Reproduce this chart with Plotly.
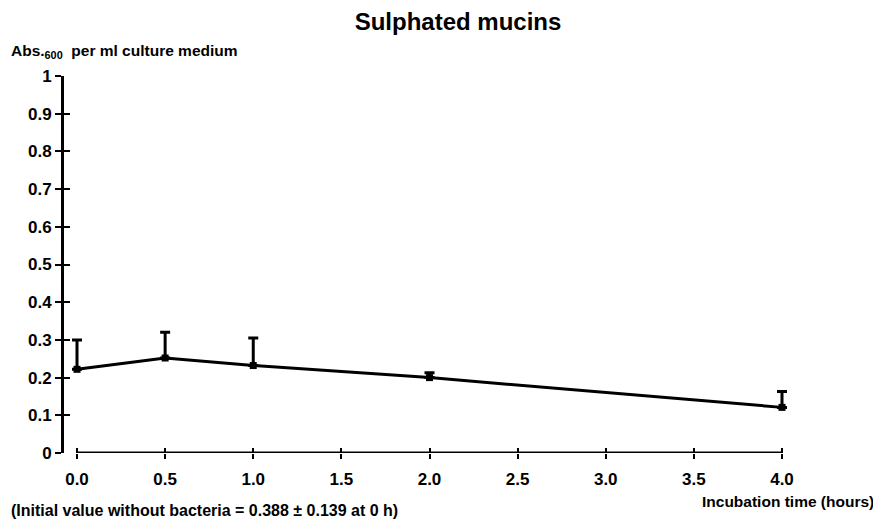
import plotly.graph_objects as go

# Data
time_h = [0.0, 0.5, 1.0, 2.0, 4.0]
absorbance = [0.222, 0.252, 0.232, 0.200, 0.121]
err_upper = [0.078, 0.068, 0.073, 0.013, 0.042]
x_ticks = [0.0, 0.5, 1.0, 1.5, 2.0, 2.5, 3.0, 3.5, 4.0]
x_ticklabels = ["0.0", "0.5", "1.0", "1.5", "2.0", "2.5", "3.0", "3.5", "4.0"]
y_ticks = [0, 0.1, 0.2, 0.3, 0.4, 0.5, 0.6, 0.7, 0.8, 0.9, 1.0]
y_ticklabels = ["0", "0.1", "0.2", "0.3", "0.4", "0.5", "0.6", "0.7", "0.8", "0.9", "1"]

# the page body has an 8px margin: work in screen pixels and subtract it
OFF = 8
W, H = 881 - OFF, 525 - OFF
L, R, T, B = 64 - OFF, 82, 76 - OFF, 72
PW, PH = W - L - R, H - T - B


def px(x):
    return (x - OFF - L) / PW


def py(y):
    return (H - B - (y - OFF)) / PH


FONT = "Arial, Liberation Sans, Helvetica, sans-serif"
# x range so that 0 sits at screen x=77 and 4 at x=782
x0 = -13 / 176.25
x1 = x0 + PW / 176.25

fig = go.Figure()
fig.add_trace(go.Scatter(
    x=time_h, y=absorbance,
    mode="lines+markers",
    line=dict(color="black", width=3),
    marker=dict(symbol="square", size=7, color="black"),
    error_y=dict(type="data", symmetric=False, array=err_upper,
                 arrayminus=[0] * len(err_upper),
                 color="black", thickness=3, width=5),
    cliponaxis=False,
    showlegend=False,
))

tickfont = dict(family=FONT, size=17, color="black", weight="bold")

fig.update_layout(
    width=W, height=H,
    margin=dict(l=L, r=R, t=T, b=B),
    paper_bgcolor="white", plot_bgcolor="white",
    title=dict(text="Sulphated mucins", x=(458 - OFF) / W, xanchor="center",
               y=1 - (22 - OFF) / H, yanchor="middle",
               font=dict(family=FONT, size=24, color="black", weight="bold")),
    xaxis=dict(range=[x0, x1], tickvals=x_ticks, ticktext=x_ticklabels,
               showline=False,
               ticks="outside", ticklen=5, tickwidth=2, tickcolor="black",
               showgrid=False, zeroline=False, tickfont=tickfont,
               ticklabelstandoff=6),
    yaxis=dict(range=[0, 1], tickvals=y_ticks, ticktext=y_ticklabels,
               showline=True, linecolor="black", linewidth=3,
               ticks="outside", ticklen=6, tickwidth=2, tickcolor="black",
               showgrid=False, zeroline=False, tickfont=tickfont),
    xaxis2=dict(range=[x0, x1], tickvals=x_ticks, overlaying="x",
                anchor="y", side="bottom", showticklabels=False,
                ticks="inside", ticklen=5, tickwidth=2, tickcolor="black",
                showgrid=False, zeroline=False, showline=False),
    yaxis2=dict(range=[0, 1], tickvals=y_ticks, overlaying="y",
                anchor="x", side="left", showticklabels=False,
                ticks="inside", ticklen=6, tickwidth=2, tickcolor="black",
                showgrid=False, zeroline=False, showline=False),
)

# x axis line spanning 0 to 4 h
fig.add_shape(type="line", xref="x", yref="y", x0=x_ticks[0], x1=x_ticks[-1], y0=0, y1=0,
              line=dict(color="black", width=3))

# invisible helper trace so the overlay axes are drawn
fig.add_trace(go.Scatter(x=[time_h[0]], y=[absorbance[0]], xaxis="x2", yaxis="y2",
                         mode="markers", marker=dict(opacity=0), hoverinfo="skip",
                         showlegend=False))

fig.add_annotation(text="Abs.<sub>600</sub>  per ml culture medium", xref="paper", yref="paper",
                   x=px(9), y=py(52), xanchor="left", yanchor="middle",
                   showarrow=False, font=dict(family=FONT, size=15.5, color="black", weight="bold"))
fig.add_annotation(text="Incubation time (hours)", xref="paper", yref="paper",
                   x=px(876), y=py(501), xanchor="right", yanchor="middle",
                   showarrow=False, font=dict(family=FONT, size=15.5, color="black", weight="bold"))
fig.add_annotation(text="(Initial value without bacteria = 0.388 ± 0.139 at 0 h)",
                   xref="paper", yref="paper",
                   x=px(9), y=py(511), xanchor="left", yanchor="middle",
                   showarrow=False, font=dict(family=FONT, size=16, color="black", weight="bold"))

fig.write_html("out.html")
